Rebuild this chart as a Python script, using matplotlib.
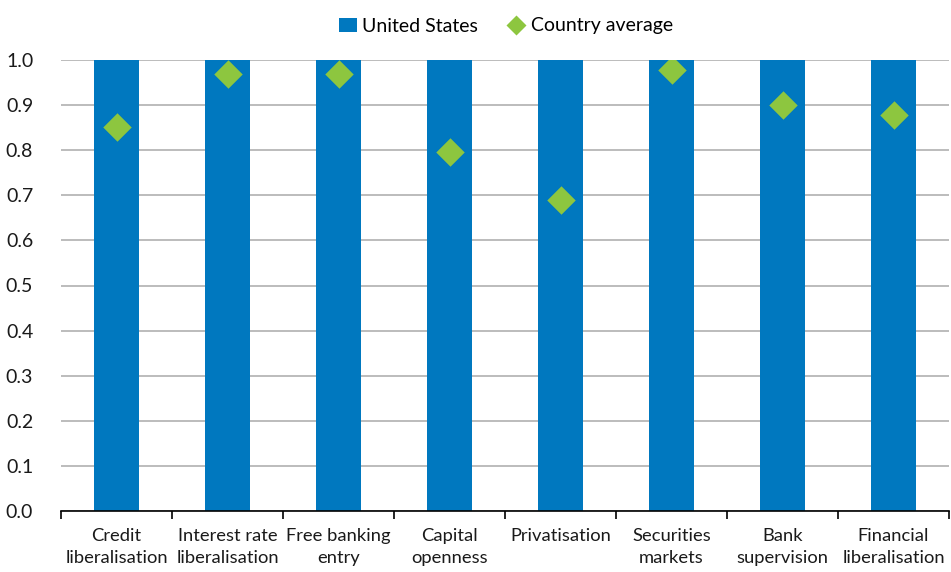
import matplotlib
matplotlib.use("Agg")
import matplotlib.pyplot as plt
import numpy as np
from matplotlib.lines import Line2D
from matplotlib.patches import Patch

categories = ["Credit\nliberalisation", "Interest rate\nliberalisation", "Free banking\nentry",
              "Capital\nopenness", "Privatisation", "Securities\nmarkets",
              "Bank\nsupervision", "Financial\nliberalisation"]
united_states = [1.0, 1.0, 1.0, 1.0, 1.0, 1.0, 1.0, 1.0]
country_average = [0.852, 0.969, 0.969, 0.797, 0.690, 0.977, 0.900, 0.879]
y_ticks = [0.0, 0.1, 0.2, 0.3, 0.4, 0.5, 0.6, 0.7, 0.8, 0.9, 1.0]

bar_color = "#0078BF"
marker_color = "#8DC63F"

plt.rcParams["font.family"] = ["Lato", "DejaVu Sans"]

fig = plt.figure(figsize=(9.51, 5.72), dpi=100)
ax = fig.add_axes([61 / 951, 1 - 511 / 572, 888 / 951, 451 / 572])

x = np.arange(len(categories))
ax.bar(x, united_states, width=0.4, color=bar_color, zorder=2)
ax.scatter(x, country_average, marker="D", s=210, color=marker_color, zorder=3, linewidths=0)

ax.set_xlim(-0.5, len(categories) - 0.5)
ax.set_ylim(0, 1.0)
ax.set_yticks(y_ticks)
ax.set_yticklabels([f"{v:.1f}" for v in y_ticks], fontsize=14, color="#1a1a1a")
ax.yaxis.grid(True, color="#b0b0b0", linewidth=1.2, zorder=0)
ax.set_axisbelow(True)
ax.tick_params(axis="y", length=0, pad=20)

ax.set_xticks(x)
ax.set_xticklabels(categories, fontsize=13.2, color="#1a1a1a", linespacing=1.5)
ax.tick_params(axis="x", length=0, pad=12)
ax.set_xticks(np.arange(len(categories) + 1) - 0.5, minor=True)
ax.tick_params(axis="x", which="minor", length=6, width=1.2, color="black", direction="out")

for side in ["left", "right", "top"]:
    ax.spines[side].set_visible(False)
ax.spines["bottom"].set_color("black")
ax.spines["bottom"].set_linewidth(1.2)

handles = [Patch(facecolor=bar_color, edgecolor="none"),
           Line2D([0], [0], marker="D", color="none", markerfacecolor=marker_color,
                  markeredgecolor="none", markersize=10)]
fig.legend(handles, ["United States", "Country average"], loc="center",
           bbox_to_anchor=(506 / 951, 1 - 26 / 572), ncol=2, frameon=False,
           fontsize=14, handlelength=0.9, handletextpad=0.3, columnspacing=1.5)

fig.savefig("out.png", dpi=100)
